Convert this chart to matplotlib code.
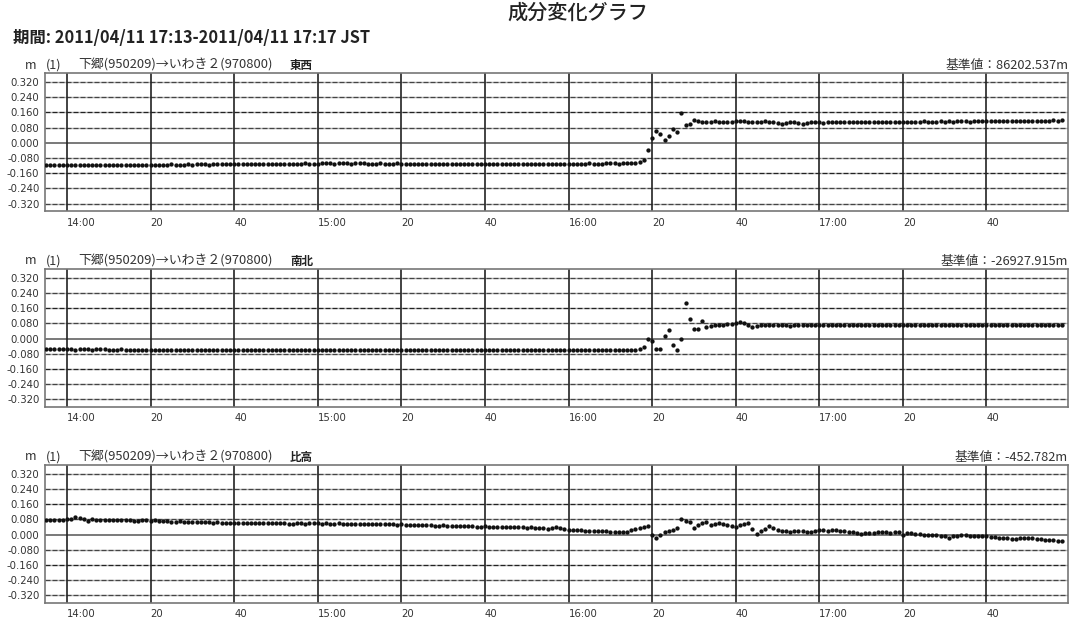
import pandas as pd
import matplotlib
matplotlib.use("Agg")
import matplotlib.pyplot as plt

plt.rcParams['font.family'] = ['Noto Sans CJK JP', 'DejaVu Sans']

# ---- data (values in mm, one sample per minute from 13:55) ----
start_time = "2011-04-11 13:55"

ew_mm = [
    -118, -117, -118, -119, -118, -117, -118, -117, -118, -119, -118, -117, -118, -117, -116, -117, -118, -117, -116, -117,
    -116, -117, -116, -115, -116, -117, -116, -115, -116, -115, -114, -115, -116, -115, -114, -115, -114, -113, -114, -115,
    -114, -113, -114, -113, -112, -113, -112, -111, -112, -113, -112, -111, -110, -111, -112, -111, -110, -109, -110, -111,
    -110, -109, -108, -109, -110, -109, -108, -107, -108, -109, -108, -107, -108, -109, -108, -107, -108, -109, -110, -109,
    -108, -109, -110, -109, -108, -109, -110, -111, -110, -109, -110, -111, -110, -109, -110, -111, -112, -111, -110, -111,
    -112, -111, -110, -111, -112, -111, -110, -111, -112, -113, -112, -111, -112, -113, -112, -111, -112, -111, -110, -111,
    -112, -111, -110, -111, -110, -109, -110, -111, -110, -109, -108, -109, -110, -109, -108, -107, -108, -109, -108, -107,
    -107, -105, -102,
    -93, -39, 26, 61, 47, 17, 38, 75, 55, 157, 92, 99, 122,
    113, 110, 108, 112, 115, 111, 109, 110, 112, 113, 114, 113, 112, 110, 108, 111, 113, 112, 108, 104,
    100, 106, 110, 108, 103, 101, 104, 109, 111, 108, 105, 107, 110, 111, 109, 110, 111, 110, 109, 110,
    111, 110, 109, 110, 111, 112, 111, 110, 111, 112, 111, 110, 111, 112, 113, 112, 111, 112, 113, 112,
    113, 112, 113, 114, 113, 112, 113, 114, 115, 114, 113, 114, 115, 114, 115, 116, 115, 114, 115, 116,
    117, 116, 115, 116, 117, 118, 117, 118,
]

ns_mm = [
    -56, -55, -57, -56, -55, -56, -57, -58, -57, -56, -57, -58, -57, -56, -57, -58, -59, -58, -57, -58,
    -59, -58, -59, -60, -59, -58, -59, -60, -61, -60, -59, -60, -61, -60, -59, -60, -61, -62, -61, -60,
    -61, -60, -61, -62, -61, -60, -61, -62, -61, -60, -61, -62, -63, -62, -61, -62, -61, -60, -61, -62,
    -61, -62, -63, -62, -61, -62, -63, -62, -61, -62, -61, -60, -61, -62, -61, -62, -63, -62, -61, -62,
    -63, -62, -61, -62, -61, -60, -61, -62, -61, -62, -61, -60, -61, -62, -61, -60, -61, -62, -61, -60,
    -61, -62, -61, -60, -61, -62, -61, -60, -61, -60, -61, -62, -61, -60, -59, -60, -61, -60, -61, -62,
    -61, -60, -61, -62, -61, -60, -61, -62, -63, -62, -61, -62, -63, -62, -61, -62, -63, -62, -61, -60,
    -59, -58, -55,
    -44, -5, -12, -56, -56, 12, 44, -35, -61, -4, 187, 101, 52, 52, 92, 61,
    68, 70, 71, 72, 74, 78, 83, 85, 82, 70, 62, 66, 70, 71, 69, 70, 72, 71, 70, 67,
    72, 70, 71, 69, 70, 72, 71, 70, 69, 70, 71, 72, 70, 69, 70, 71, 70, 69, 71, 72,
    71, 70, 69, 70, 71, 70, 72, 71, 70, 69, 70, 71, 72, 71, 70, 69, 70, 71, 70, 71,
    72, 71, 70, 71, 72, 73, 72, 71, 70, 71, 72, 71, 70, 71, 72, 71, 70, 71, 72, 71,
    70, 71, 72, 71, 70,
]

up_mm = [
    76, 78, 77, 79, 78, 81, 84, 90, 87, 80, 69, 83, 79, 78, 76, 77, 78, 76, 77, 78,
    75, 69, 73, 75, 74, 73, 74, 72, 70, 71, 65, 68, 70, 67, 66, 68, 66, 64, 65, 66,
    63, 64, 62, 61, 63, 62, 60, 61, 62, 60, 61, 59, 60, 61, 59, 60, 58, 59, 57, 56,
    58, 59, 57, 58, 59, 58, 57, 58, 56, 57, 58, 56, 55, 56, 57, 55, 56, 54, 55, 56,
    54, 53, 55, 54, 52, 53, 51, 52, 50, 51, 49, 48, 49, 47, 46, 48, 47, 45, 44, 46,
    45, 43, 44, 42, 41, 43, 42, 40, 41, 39, 40, 38, 39, 37, 38, 36, 37, 35, 36, 34,
    31, 33, 38, 35, 28, 22, 24, 22, 23, 21, 20, 18, 17, 18, 16, 15, 12, 14, 13, 15,
    25, 30, 34,
    38, 47, 0, -21, -2, 12, 21, 26, 34, 81, 70, 66, 34, 50, 60, 65, 52, 57, 60, 55,
    52, 45, 38, 48, 55, 60, 31, 3, 20, 29, 43, 35, 26, 21, 16, 12, 17,
    21, 17, 12, 14, 17, 26, 22, 20, 24, 26, 20, 17, 15, 12, 8, 3, 6, 10, 8, 12,
    14, 12, 10, 13, 14, 0, 8, 6, 4, 2, -1, -4, -2, 0, -6, -10, -17, -10, -6, -4,
    -4, -6, -8, -7, -9, -9, -12, -14, -16, -18, -20, -22, -26, -20, -17, -19, -17, -22, -25, -27,
    -29, -31, -33, -35,
]

components = ["東西", "南北", "比高"]
base_values = ["基準値：86202.537m", "基準値：-26927.915m", "基準値：-452.782m"]
route_label = "下郷(950209)→いわき２(970800)"

y_ticks = [0.32, 0.24, 0.16, 0.08, 0.0, -0.08, -0.16, -0.24, -0.32]
y_tick_labels = ["0.320", "0.240", "0.160", "0.080", "0.000",
                 "-0.080", "-0.160", "-0.240", "-0.320"]
x_tick_times = ["14:00", "14:20", "14:40", "15:00", "15:20", "15:40",
                "16:00", "16:20", "16:40", "17:00", "17:20", "17:40"]
x_tick_labels = ["14:00", "20", "40", "15:00", "20", "40",
                 "16:00", "20", "40", "17:00", "20", "40"]

W, H = 1072, 619
fig = plt.figure(figsize=(W / 100, H / 100), dpi=100)

def fx(px):
    return px / W

def fy(py):
    return 1 - py / H

fig.text(fx(578), fy(13), "成分変化グラフ", ha='center', va='center',
         fontsize=14.5, fontweight='medium', color='#222')
fig.text(fx(13), fy(38), "期間: 2011/04/11 17:13-2011/04/11 17:17 JST",
         ha='left', va='center', fontsize=11.8, fontweight='bold', color='#222')

times = pd.date_range(start_time, periods=len(ew_mm), freq='1min')
series = [ew_mm, ns_mm, up_mm]
tick_pos = [pd.Timestamp("2011-04-11 " + t) for t in x_tick_times]
x_left = pd.Timestamp("2011-04-11 13:54:44")
x_right = pd.Timestamp("2011-04-11 17:59:30")

left_px, right_px = 45, 1068
tops = [73.3, 269, 465]
height_px = 137.5

for i, vals in enumerate(series):
    top = tops[i]
    ax = fig.add_axes([fx(left_px), fy(top + height_px),
                       (right_px - left_px) / W, height_px / H])
    y = [v / 1000 for v in vals]

    for yt in y_ticks:
        if yt == 0:
            ax.axhline(yt, color='#555', lw=1.1, zorder=1)
        else:
            dark = '#222' if abs(yt) == 0.16 else '#444'
            ax.axhline(yt, color='#b5b5b5', lw=1.0, zorder=1)
            ax.axhline(yt, color=dark, lw=0.9, ls=(0, (4, 1.6)), zorder=1.1)
    for xt in tick_pos:
        ax.axvline(xt, color='#222', lw=1.2, zorder=1.2)

    ax.plot(times, y, 'o', ms=3.1, color='#111', mec='none', zorder=3)

    ax.set_xlim(x_left, x_right)
    ax.set_ylim(-0.358, 0.366)
    ax.set_yticks(y_ticks)
    ax.set_yticklabels(y_tick_labels, fontsize=7.3, color='#333',
                       family='DejaVu Sans')
    ax.set_xticks(tick_pos)
    ax.set_xticklabels(x_tick_labels, fontsize=7.3, color='#333', ha='left',
                       family='DejaVu Sans')
    ax.tick_params(length=0, pad=4)
    ax.tick_params(axis='x', pad=5)
    for sp in ax.spines.values():
        sp.set_color('#777')
        sp.set_linewidth(1.2)

    ty = top - 8
    fig.text(fx(25), fy(ty), "m", ha='left', va='center', fontsize=9, color='#333')
    fig.text(fx(46), fy(ty), "(1)", ha='left', va='center', fontsize=9, color='#333')
    fig.text(fx(78), fy(ty), route_label, ha='left', va='center', fontsize=9.3, color='#333')
    fig.text(fx(290), fy(ty), components[i], ha='left', va='center', fontsize=8.3,
             color='#222', fontweight='bold')
    fig.text(fx(1068), fy(ty), base_values[i], ha='right', va='center', fontsize=9.2,
             color='#333')

fig.savefig("out.png", dpi=100)
